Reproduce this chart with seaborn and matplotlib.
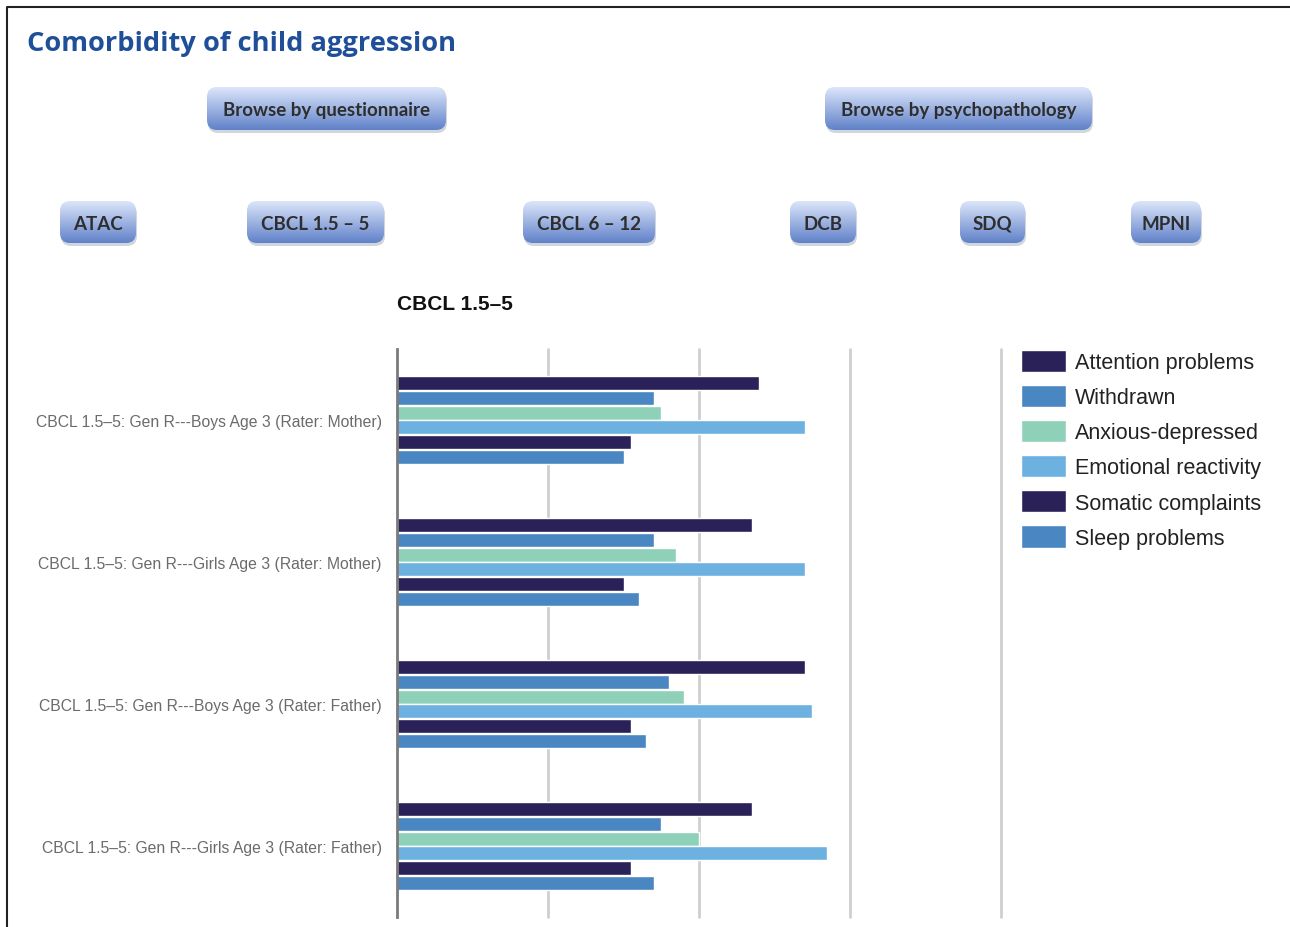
import numpy as np
import pandas as pd
import matplotlib
matplotlib.use("Agg")
import matplotlib.pyplot as plt
import seaborn as sns
from matplotlib.patches import FancyBboxPatch

# data
groups = [
    "CBCL 1.5\u20135: Gen R---Boys Age 3 (Rater: Mother)",
    "CBCL 1.5\u20135: Gen R---Girls Age 3 (Rater: Mother)",
    "CBCL 1.5\u20135: Gen R---Boys Age 3 (Rater: Father)",
    "CBCL 1.5\u20135: Gen R---Girls Age 3 (Rater: Father)",
]
series = ["Attention problems", "Withdrawn", "Anxious-depressed",
          "Emotional reactivity", "Somatic complaints", "Sleep problems"]
attention = [0.48, 0.47, 0.54, 0.47]
withdrawn = [0.34, 0.34, 0.36, 0.35]
anxious = [0.35, 0.37, 0.38, 0.40]
emotional = [0.54, 0.54, 0.55, 0.57]
somatic = [0.31, 0.30, 0.31, 0.31]
sleep = [0.30, 0.32, 0.33, 0.34]
colors = ["#2a2159", "#4a86c2", "#8fd1b8", "#6db1e0", "#2a2159", "#4a86c2"]

top_buttons = ["Browse by questionnaire", "Browse by psychopathology"]
questionnaires = ["ATAC", "CBCL 1.5 \u2013 5", "CBCL 6 \u2013 12", "DCB", "SDQ", "MPNI"]

values = [attention, withdrawn, anxious, emotional, somatic, sleep]
rows = []
for s, vals in zip(series, values):
    for g, v in zip(groups, vals):
        rows.append({"group": g, "series": s, "value": v})
df = pd.DataFrame(rows)
palette = dict(zip(series, colors))

W, H = 1290, 928
sns.set_style("white")
plt.rcParams["font.family"] = ["Liberation Sans", "DejaVu Sans"]
fig = plt.figure(figsize=(W / 100, H / 100), dpi=100)

# main chart axes
ax = fig.add_axes([397 / W, 1 - 918 / H, (1001 - 397) / W, (918 - 350) / H])
sns.barplot(data=df, y="group", x="value", hue="series", hue_order=series,
            order=groups, palette=palette, orient="h", width=0.63, gap=0.06,
            saturation=1, ax=ax)
handles, labels = ax.get_legend_handles_labels()
ax.get_legend().remove()
ax.set_xlim(0, 0.8)
ax.set_xticks([0.2, 0.4, 0.6, 0.8])
ax.set_xticklabels([])
ax.set_xlabel("")
ax.set_ylabel("")
ax.tick_params(axis="both", length=0)
ax.tick_params(axis="y", labelsize=11.3, labelcolor="#6b6b6b", pad=11)
ax.grid(axis="x", color="#cfcfcf", linewidth=2)
ax.set_axisbelow(True)
for side in ["top", "right", "bottom"]:
    ax.spines[side].set_visible(False)
ax.spines["left"].set_color("#7a7a7a")
ax.spines["left"].set_linewidth(2)
for gl in ax.get_xgridlines():
    gl.set_clip_on(False)

fig.legend(handles, labels, loc="upper left",
           bbox_to_anchor=(1010 / W, 1 - 340 / H), frameon=False,
           fontsize=15.5, handlelength=2.1, handleheight=1.2,
           handletextpad=0.42, labelspacing=0.55, borderpad=0,
           labelcolor="#222222")

# overlay in pixel coords for title, buttons, frame
ov = fig.add_axes([0, 0, 1, 1], zorder=-1)
ov.set_xlim(0, W)
ov.set_ylim(H, 0)
ov.axis("off")

ov.plot([7, 7, W], [H, 8, 8], color="#222222", linewidth=1.5)
ov.text(27, 44, "Comorbidity of child aggression", fontsize=19.6,
        fontweight="bold", color="#1f4f98", va="center", ha="left",
        family=["Open Sans", "DejaVu Sans"])
ov.text(397, 305, "CBCL 1.5\u20135", fontsize=15, fontweight="bold",
        color="#111111", va="center", ha="left")

grad = np.linspace(0, 1, 64).reshape(-1, 1)
top_c = np.array([0.86, 0.90, 0.98])
bot_c = np.array([0.38, 0.51, 0.79])
img = top_c[None, None, :] * (1 - grad[..., None]) + bot_c[None, None, :] * grad[..., None]


def button(x0, x1, y0, y1, label, size):
    sh = FancyBboxPatch((x0 + 1, y0 + 3), x1 - x0, y1 - y0,
                        boxstyle="round,pad=0,rounding_size=10",
                        facecolor="#9aa3b5", edgecolor="none", alpha=0.45)
    ov.add_patch(sh)
    box = FancyBboxPatch((x0, y0), x1 - x0, y1 - y0,
                         boxstyle="round,pad=0,rounding_size=10",
                         facecolor="none", edgecolor="none")
    ov.add_patch(box)
    im = ov.imshow(img, extent=(x0, x1, y1, y0), aspect="auto", zorder=2)
    im.set_clip_path(box)
    ov.text((x0 + x1) / 2, (y0 + y1) / 2 + 1, label, fontsize=size,
            fontweight="bold", color="#2e2e2e", ha="center", va="center",
            zorder=3, family=["Lato", "DejaVu Sans"])


button(207, 446, 88, 131, top_buttons[0], 13.5)
button(825, 1092, 88, 131, top_buttons[1], 13.5)
row_x = [(60, 136), (247, 384), (523, 655), (790, 856), (960, 1025), (1131, 1201)]
for (x0, x1), q in zip(row_x, questionnaires):
    button(x0, x1, 202, 244, q, 13.5)

ov.set_xlim(0, W)
ov.set_ylim(H, 0)

fig.savefig("out.png", dpi=100)
